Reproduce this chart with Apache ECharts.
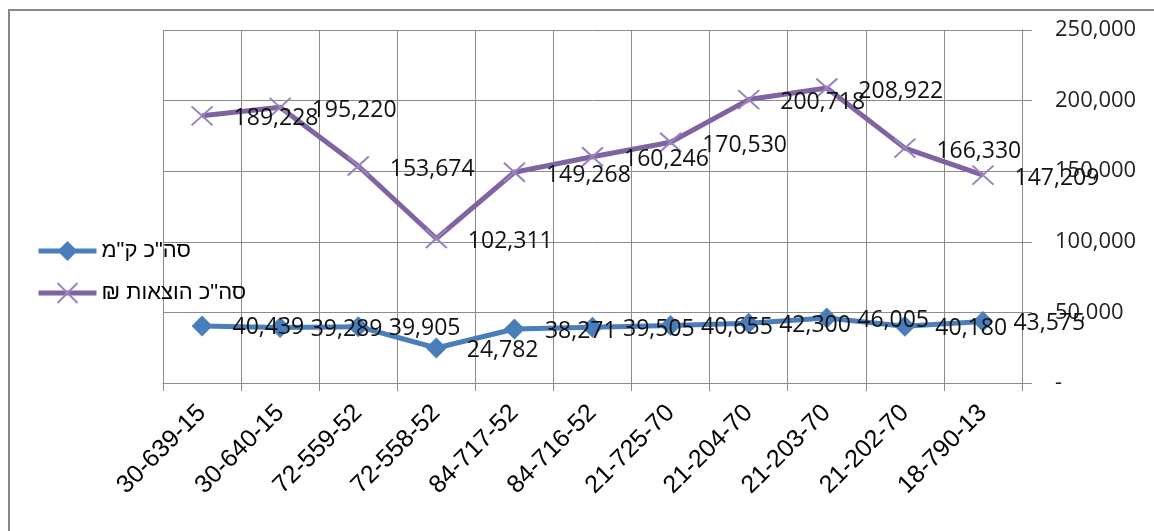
<!DOCTYPE html>
<html>
<head>
<meta charset="utf-8">
<script src="https://cdn.jsdelivr.net/npm/echarts@6/dist/echarts.min.js"></script>
<style>
    html, body { margin: 0; padding: 0; background: #fff; }
    #main { width: 1154px; height: 531px; }
</style>
</head>
<body>
<div id="main"></div>
<script>
var categories = ['30-639-15', '30-640-15', '72-559-52', '72-558-52', '84-717-52', '84-716-52',
    '21-725-70', '21-204-70', '21-203-70', '21-202-70', '18-790-13'];
var kmName = 'סה"כ ק"מ';
var costName = 'סה"כ הוצאות ₪';
var kmValues = [40439, 39289, 39905, 24782, 38271, 39505, 40655, 42300, 46005, 40180, 43575];
var costValues = [189228, 195220, 153674, 102311, 149268, 160246, 170530, 200718, 208922, 166330, 147209];

var gridGray = '#8c8c8c';
var labelFont = '"Open Sans", sans-serif';

function fmtNum(v) {
    if (v === 0) {
        return '-';
    }
    return v.toLocaleString('en-US');
}

var myChart = echarts.init(document.getElementById('main'));
var option = {
    animation: false,
    backgroundColor: '#fff',
    graphic: [{
        type: 'rect',
        shape: { x: 9, y: 10, width: 1200, height: 600 },
        style: { fill: 'none', stroke: '#878787', lineWidth: 2 },
        silent: true
    }],
    grid: {
        left: 163,
        right: 132,
        top: 30,
        bottom: 148
    },
    legend: {
        orient: 'vertical',
        left: 31,
        top: 235,
        itemGap: 20,
        itemWidth: 58,
        itemHeight: 25,
        data: [kmName, costName],
        lineStyle: { width: 5 },
        formatter: function (name) {
            // RTL mark so the shekel sign stays on the left like in Excel
            return name + '\u200F';
        },
        textStyle: {
            fontFamily: '"Liberation Sans", Arial, sans-serif',
            fontSize: 22,
            color: '#000'
        }
    },
    xAxis: {
        type: 'category',
        data: categories,
        boundaryGap: true,
        axisLine: { lineStyle: { color: gridGray, width: 1 } },
        axisTick: { show: true, length: 8, lineStyle: { color: gridGray } },
        splitLine: { show: true, lineStyle: { color: gridGray, width: 1 } },
        axisLabel: {
            interval: 0,
            rotate: 45,
            margin: 26,
            color: '#000',
            fontFamily: '"Liberation Sans", Arial, sans-serif',
            fontSize: 25
        }
    },
    yAxis: {
        type: 'value',
        position: 'right',
        min: 0,
        max: 250000,
        interval: 50000,
        axisLine: { show: true, lineStyle: { color: gridGray, width: 1 } },
        axisTick: { show: true, length: 10, lineStyle: { color: gridGray } },
        splitLine: { show: true, lineStyle: { color: gridGray, width: 1 } },
        axisLabel: {
            margin: 33,
            align: 'left',
            color: '#222',
            fontFamily: labelFont,
            fontSize: 22,
            padding: [0, 0, 6, 0],
            formatter: fmtNum
        }
    },
    series: [{
        name: kmName,
        type: 'line',
        data: kmValues,
        symbol: 'diamond',
        symbolSize: 21,
        lineStyle: { color: '#4a7ebb', width: 5 },
        itemStyle: { color: '#4a7ebb' },
        label: {
            show: true,
            position: 'right',
            distance: 20,
            offset: [0, 2],
            color: '#111',
            fontFamily: labelFont,
            fontSize: 23,
            formatter: function (p) { return fmtNum(p.value); }
        },
        z: 3
    }, {
        name: costName,
        type: 'line',
        data: costValues,
        symbol: 'path://M0,0L10,10M10,0L0,10',
        symbolSize: [21, 19],
        lineStyle: { color: '#8064a2', width: 5 },
        itemStyle: { color: '#9a84c0', borderColor: '#9a84c0', borderWidth: 2 },
        label: {
            show: true,
            position: 'right',
            distance: 20,
            offset: [0, 3],
            color: '#111',
            fontFamily: labelFont,
            fontSize: 23,
            formatter: function (p) { return fmtNum(p.value); }
        },
        z: 3
    }]
};

myChart.setOption(option);
</script>
</body>
</html>
